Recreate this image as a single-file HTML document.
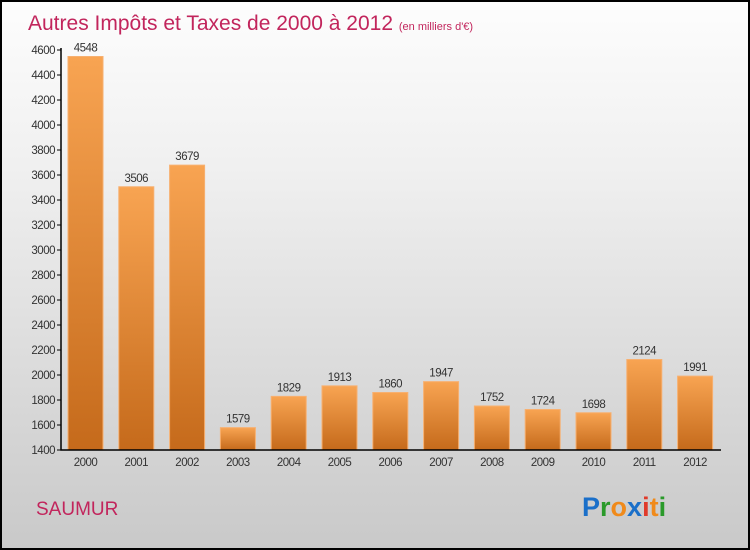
<!DOCTYPE html>
<html><head><meta charset="utf-8"><style>
body{margin:0}
#c{position:relative;width:746px;height:546px;border:2px solid #000;background:linear-gradient(#fdfdfd,#f0f0f0 30%,#c9c9c9);font-family:"Liberation Sans",sans-serif;overflow:hidden}
</style></head><body>
<div id="c">
<svg id="s" width="746" height="546">
<defs><linearGradient id="g" x1="0" y1="0" x2="0" y2="1"><stop offset="0" stop-color="#f8a452"/><stop offset="1" stop-color="#c56a1b"/></linearGradient></defs>
<text x="26" y="28" font-size="21" fill="#c2255c">Autres Impôts et Taxes de 2000 à 2012 <tspan font-size="11">(en milliers d'€)</tspan></text>
<text x="34" y="513" font-size="19" fill="#c2255c">SAUMUR</text>
<text x="580" y="514" font-size="27" font-weight="bold"><tspan fill="#1a6fc9">P</tspan><tspan fill="#2a9a2a">r</tspan><tspan fill="#f08a1a">o</tspan><tspan fill="#1a6fc9">x</tspan><tspan fill="#e03a2a">i</tspan><tspan fill="#f08a1a">t</tspan><tspan fill="#2a9a2a">i</tspan></text>
<g id="plot"></g>
</svg></div>
<script>
const years=["2000","2001","2002","2003","2004","2005","2006","2007","2008","2009","2010","2011","2012"];
const values=[4548,3506,3679,1579,1829,1913,1860,1947,1752,1724,1698,2124,1991];
const ticks=[1400,1600,1800,2000,2200,2400,2600,2800,3000,3200,3400,3600,3800,4000,4200,4400,4600];
const ns="http://www.w3.org/2000/svg";
const g=document.getElementById('plot');
const X0=59,Y0=448,yMin=1400,yMax=4600,H=400;
const y=v=>Y0-(v-yMin)/(yMax-yMin)*H;
const x=i=>X0+24.5+i*50.8;
function el(t,a){const e=document.createElementNS(ns,t);for(const k in a)e.setAttribute(k,a[k]);g.appendChild(e);return e;}
ticks.forEach(t=>{
 const l=el('line',{x1:X0-4,x2:X0,y1:y(t),y2:y(t),stroke:'#000'});
 
 
 const tx=el('text',{x:X0-6,y:y(t)+4,'font-size':11.5,'text-anchor':'end',fill:'#333','letter-spacing':'-0.5'});
 tx.textContent=t;
 
 
});
values.forEach((v,i)=>{
 const r=el('rect',{x:x(i)-17.5,y:y(v),width:35,height:Y0-y(v),fill:'url(#g)',stroke:'#f7b070','stroke-width':1});
 
 
 const t=el('text',{x:x(i),y:y(v)-5,'font-size':11.5,'text-anchor':'middle',fill:'#333','letter-spacing':'-0.5'});
 t.textContent=v;
 
 
 const c=el('text',{x:x(i),y:Y0+16,'font-size':11.5,'text-anchor':'middle',fill:'#333','letter-spacing':'-0.5'});
 c.textContent=years[i];
 
 
});
const ax=el('path',{d:`M${X0} ${y(4600)-2}V${Y0}H${X0+660}`,stroke:'#000','stroke-width':1.5,fill:'none'});


</script>
</body></html>
